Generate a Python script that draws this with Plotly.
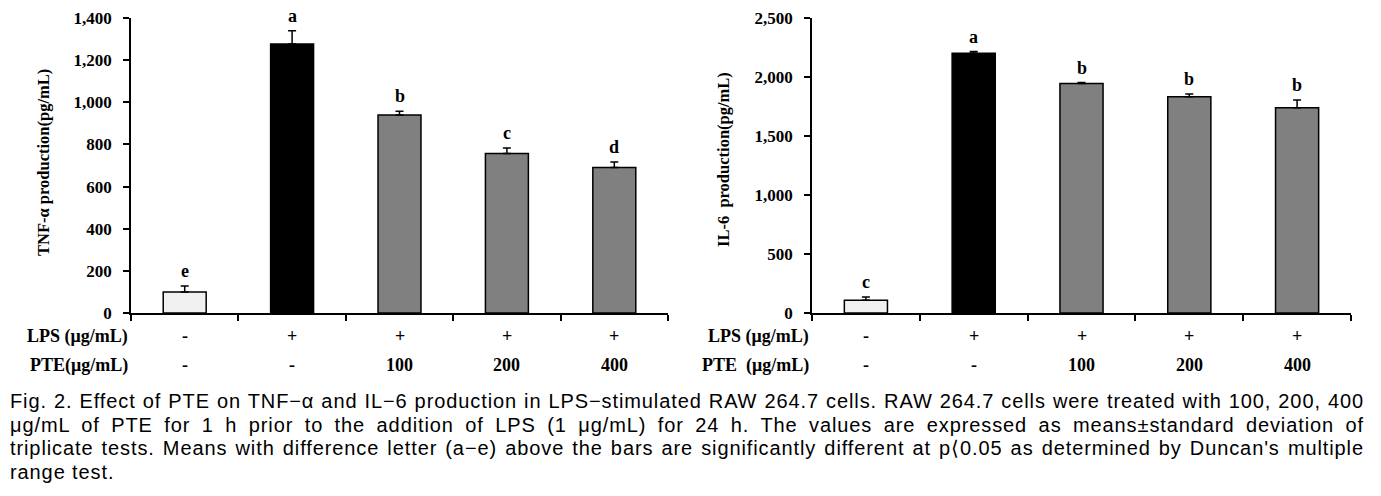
import plotly.graph_objects as go

# ---- data ----
groups = ["Control", "LPS", "LPS+PTE100", "LPS+PTE200", "LPS+PTE400"]
lps_row = ["-", "+", "+", "+", "+"]
pte_row = ["-", "-", "100", "200", "400"]
tnf_values = [100, 1277, 940, 757, 690]
tnf_errors = [28, 62, 18, 26, 27]
tnf_letters = ["e", "a", "b", "c", "d"]
il6_values = [108, 2202, 1945, 1833, 1740]
il6_errors = [27, 14, 8, 22, 65]
il6_letters = ["c", "a", "b", "b", "b"]
bar_colors = ["#f0f0f0", "#000000", "#808080", "#808080", "#808080"]
tnf_ticks = [0, 200, 400, 600, 800, 1000, 1200, 1400]
il6_ticks = [0, 500, 1000, 1500, 2000, 2500]
caption_lines = [
    "Fig. 2. Effect of PTE on TNF−α and IL−6 production in LPS−stimulated RAW 264.7 cells. RAW 264.7 cells were treated with 100, 200, 400",
    "μg/mL of PTE for 1 h prior to the addition of LPS (1 μg/mL) for 24 h. The values are expressed as means±standard deviation of",
    "triplicate tests. Means with difference letter (a−e) above the bars are significantly different at p⟨0.05 as determined by Duncan's multiple",
    "range test.",
]

W, H = 1381, 496
SERIF = "Liberation Serif"
xpos = list(range(len(groups)))

fig = go.Figure()

def add_panel(values, errors, xa, ya):
    fig.add_trace(go.Bar(
        x=xpos, y=values, width=0.4,
        marker=dict(color=bar_colors, line=dict(color="#000000", width=1.5)),
        error_y=dict(type="data", symmetric=False, array=errors,
                     arrayminus=[0] * len(errors), color="#000000",
                     thickness=1.5, width=4),
        xaxis=xa, yaxis=ya, showlegend=False, hoverinfo="skip",
    ))

add_panel(tnf_values, tnf_errors, "x", "y")
add_panel(il6_values, il6_errors, "x2", "y2")

ydom = [1 - 313 / H, 1 - 18 / H]
xcommon = dict(range=[-0.5, 4.5], tickvals=[-0.5, 0.5, 1.5, 2.5, 3.5, 4.5],
               showticklabels=False, ticks="outside", ticklen=6, tickwidth=1.5,
               tickcolor="#000000", showline=True, linecolor="#000000",
               linewidth=1.5, showgrid=False, zeroline=False, fixedrange=True,
               automargin=False)
ycommon = dict(ticks="outside", ticklen=6, tickwidth=1.5, tickcolor="#000000",
               showline=True, linecolor="#000000", linewidth=1.5,
               showgrid=False, zeroline=False, tickformat=",",
               tickfont=dict(family=SERIF, size=17, color="#000000", weight="bold"),
               ticklabelstandoff=8, fixedrange=True, automargin=False)

fig.update_layout(
    width=W, height=H, autosize=False,
    margin=dict(l=0, r=0, t=0, b=0, pad=0),
    paper_bgcolor="#ffffff", plot_bgcolor="#ffffff",
    bargap=0.6,
    xaxis=dict(domain=[131 / W, 668 / W], anchor="y", **xcommon),
    xaxis2=dict(domain=[812 / W, 1351 / W], anchor="y2", **xcommon),
    yaxis=dict(domain=ydom, anchor="x", range=[0, 1400], tickvals=tnf_ticks, **ycommon),
    yaxis2=dict(domain=ydom, anchor="x2", range=[0, 2500], tickvals=il6_ticks, **ycommon),
)

ann = []
bold = dict(family=SERIF, color="#000000", weight="bold")

def letters(values, errors, labels, xr, yr):
    for i, (v, e, l) in enumerate(zip(values, errors, labels)):
        ann.append(dict(x=i, y=v + e, xref=xr, yref=yr, text=l, showarrow=False,
                        yanchor="bottom", yshift=3, font=dict(size=18, **bold)))

letters(tnf_values, tnf_errors, tnf_letters, "x", "y")
letters(il6_values, il6_errors, il6_letters, "x2", "y2")

row_y = [1 - 336 / H, 1 - 365 / H]
for xr, lab_right, pte_label in [("x", 130, "PTE(μg/mL)"), ("x2", 811, "PTE  (μg/mL)")]:
    ann.append(dict(x=lab_right / W, y=row_y[0], xref="paper", yref="paper",
                    text="LPS (μg/mL)", showarrow=False, xanchor="right",
                    yanchor="middle", font=dict(size=18, **bold)))
    ann.append(dict(x=lab_right / W, y=row_y[1], xref="paper", yref="paper",
                    text=pte_label, showarrow=False, xanchor="right",
                    yanchor="middle", font=dict(size=18, **bold)))
    for i in xpos:
        ann.append(dict(x=i, y=row_y[0], xref=xr, yref="paper", text=lps_row[i],
                        showarrow=False, yanchor="middle", font=dict(size=18, **bold)))
        ann.append(dict(x=i, y=row_y[1], xref=xr, yref="paper", text=pte_row[i],
                        showarrow=False, yanchor="middle", font=dict(size=18, **bold)))

ann.append(dict(x=43 / W, y=1 - 163 / H, xref="paper", yref="paper",
                text="TNF-α production(pg/mL)", textangle=-90, showarrow=False,
                xanchor="center", yanchor="middle", font=dict(size=16.5, **bold)))
ann.append(dict(x=724 / W, y=1 - 160 / H, xref="paper", yref="paper",
                text="IL-6  production(pg/mL)", textangle=-90, showarrow=False,
                xanchor="center", yanchor="middle", font=dict(size=16.5, **bold)))

cap_y = [401, 425, 448, 472]
for line, yy in zip(caption_lines, cap_y):
    ann.append(dict(x=8 / W, y=1 - yy / H, xref="paper", yref="paper", text=line,
                    showarrow=False, xanchor="left", yanchor="middle",
                    font=dict(family="Liberation Sans", size=20, color="#000000")))

fig.update_layout(annotations=ann)

justify_js = """
document.body.style.margin='0';
document.body.style.overflow='hidden';
(function(){
  function justify(){
    var gd=document.getElementById('{plot_id}');
    if(!gd) return;
    var els=gd.querySelectorAll('text.annotation-text');
    els.forEach(function(el){
      var t=el.textContent;
      var full=(t.indexOf('Fig. 2.')===0 || t.indexOf('g/mL of PTE')===1 || t.indexOf('triplicate')===0);
      var last=(t==='range test.');
      if(!(full||last)) return;
      if(el.getAttribute('data-just')) return;
      el.setAttribute('data-just','1');
      var b0=el.getBBox();
      el.style.letterSpacing='0.9px';
      if(full){
        var b1=el.getBBox();
        var n=(t.trim().match(/ +/g)||[]).length;
        var ws=(1354-b1.width)/n;
        if(ws<0) ws=0;
        el.style.wordSpacing=ws+'px';
      }
      var b2=el.getBBox();
      var tr=el.getAttribute('transform')||'';
      el.setAttribute('transform', tr+' translate('+(b0.x-b2.x)+',0)');
    });
  }
  justify();
  var gd=document.getElementById('{plot_id}');
  if(gd && gd.on){ gd.on('plotly_afterplot', justify); }
})();
"""

fig.write_html("out.html", config={"displayModeBar": False}, post_script=justify_js)
